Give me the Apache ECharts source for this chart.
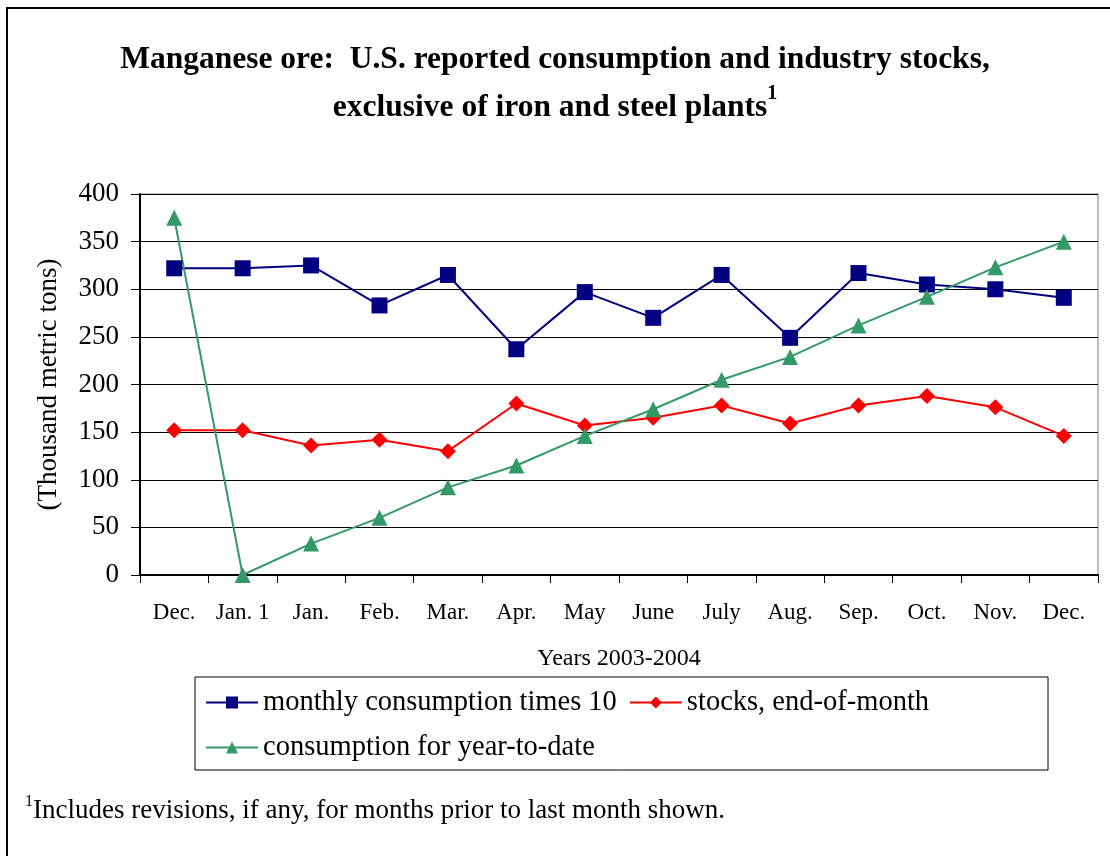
<!DOCTYPE html>
<html>
<head>
<meta charset="utf-8">
<script src="https://cdn.jsdelivr.net/npm/echarts@6/dist/echarts.min.js"></script>
<style>
    html, body { margin: 0; padding: 0; background: #fff; }
    #chart { width: 1110px; height: 856px; }
</style>
</head>
<body>
<div id="chart"></div>
<script>
    // 类目与数据（千公吨）
    const months = ['Dec.', 'Jan. 1', 'Jan.', 'Feb.', 'Mar.', 'Apr.', 'May', 'June', 'July', 'Aug.', 'Sep.', 'Oct.', 'Nov.', 'Dec.'];
    const monthlyTimes10 = [322, 322, 325, 283, 315, 237, 297, 270, 315, 249, 317, 305, 300, 291];
    const stocksEndOfMonth = [152, 152, 136, 142, 130, 180, 157, 165, 178, 159, 178, 188, 176, 146];
    const yearToDate = [375, 0, 33, 60, 92, 115, 146, 174, 205, 229, 262, 292, 323, 350];

    const serif = '"Liberation Serif", "DejaVu Serif", serif';

    function makeSeries(name, data, color, symbol, size) {
        return {
            name: name,
            type: 'line',
            data: data,
            symbol: symbol,
            symbolSize: size,
            lineStyle: {color: color, width: 2},
            itemStyle: {color: color},
            animation: false
        };
    }

    let chart = echarts.init(document.getElementById('chart'));
    let option = {
        backgroundColor: '#fff',
        textStyle: {fontFamily: serif, color: '#000'},
        title: {
            left: 'center',
            top: 31,
            text: '{t|Manganese ore:  U.S. reported consumption and industry stocks,}\n{t|exclusive of iron and steel plants}{sup|1}',
            textStyle: {
                rich: {
                    t: {fontFamily: serif, fontWeight: 'bold', fontSize: 31.5, lineHeight: 48, color: '#000'},
                    sup: {fontFamily: serif, fontWeight: 'bold', fontSize: 20, lineHeight: 48, verticalAlign: 'top', padding: [0, 0, 14, 0], color: '#000'}
                }
            }
        },
        legend: [
            {
                left: 205,
                top: 688,
                padding: 0,
                itemWidth: 52,
                itemHeight: 15,
                itemGap: 12,
                data: ['monthly consumption times 10', 'stocks, end-of-month'],
                textStyle: {fontFamily: serif, fontSize: 28.5, color: '#000'}
            },
            {
                left: 205,
                top: 733,
                padding: 0,
                itemWidth: 52,
                itemHeight: 15,
                data: ['consumption for year-to-date'],
                textStyle: {fontFamily: serif, fontSize: 28.5, color: '#000'}
            }
        ],
        grid: {
            left: 140,
            right: 12,
            top: 194,
            bottom: 281,
            show: true,
            borderColor: '#808080',
            borderWidth: 1
        },
        xAxis: {
            type: 'category',
            data: months,
            boundaryGap: true,
            name: 'Years 2003-2004',
            nameLocation: 'middle',
            nameGap: 72,
            nameTextStyle: {fontFamily: serif, fontSize: 24, color: '#000'},
            axisLine: {lineStyle: {color: '#000', width: 2}},
            axisTick: {show: true, interval: 0, length: 8, lineStyle: {color: '#000'}},
            axisLabel: {interval: 0, margin: 26, fontFamily: serif, fontSize: 23, color: '#000'}
        },
        yAxis: {
            type: 'value',
            min: 0,
            max: 400,
            interval: 50,
            name: '(Thousand metric tons)',
            nameLocation: 'middle',
            nameRotate: 90,
            nameGap: 78,
            nameTextStyle: {fontFamily: serif, fontSize: 27, color: '#000'},
            axisLine: {show: true, lineStyle: {color: '#000', width: 2}},
            axisTick: {show: true, length: 9, lineStyle: {color: '#000'}},
            axisLabel: {margin: 21, fontFamily: serif, fontSize: 27, color: '#000'},
            splitLine: {show: true, lineStyle: {color: '#000', width: 1}}
        },
        graphic: [
            {
                type: 'rect',
                shape: {x: 7, y: 8, width: 1110, height: 900},
                style: {fill: 'none', stroke: '#000', lineWidth: 2},
                silent: true
            },
            {
                type: 'rect',
                shape: {x: 195, y: 677, width: 853, height: 93},
                style: {fill: 'none', stroke: '#000', lineWidth: 1},
                silent: true
            },
            {
                type: 'text',
                left: 25,
                top: 794,
                style: {
                    text: '{sup|1}{t|Includes revisions, if any, for months prior to last month shown.}',
                    rich: {
                        t: {fontFamily: serif, fontSize: 27, lineHeight: 34, color: '#000'},
                        sup: {fontFamily: serif, fontSize: 16, lineHeight: 34, verticalAlign: 'top', padding: [0, 0, 12, 0], color: '#000'}
                    }
                }
            }
        ],
        series: [
            makeSeries('monthly consumption times 10', monthlyTimes10, '#000080', 'rect', 16),
            makeSeries('stocks, end-of-month', stocksEndOfMonth, '#ff0000', 'diamond', 16),
            makeSeries('consumption for year-to-date', yearToDate, '#339966', 'triangle', 16)
        ]
    };
    chart.setOption(option);
</script>
</body>
</html>
